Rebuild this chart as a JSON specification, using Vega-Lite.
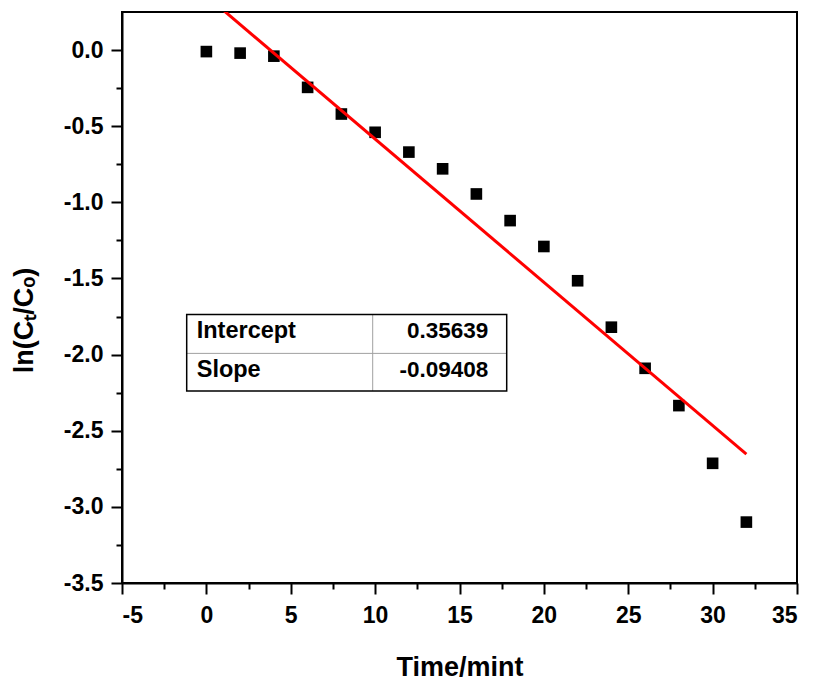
{
  "$schema": "https://vega.github.io/schema/vega-lite/v6.json",
  "autosize": "none",
  "width": 675,
  "height": 571,
  "padding": {"left": 122, "top": 12, "right": 16, "bottom": 100},
  "background": "white",
  "config": {
    "view": {"stroke": "black", "strokeWidth": 2},
    "font": "Liberation Sans",
    "axis": {"grid": false, "labelColor": "black", "titleColor": "black", "tickColor": "black", "domainColor": "black"}
  },
  "datasets": {
    "kinetics": [
      {"time": 0, "lnC": -0.01},
      {"time": 2, "lnC": -0.02},
      {"time": 4, "lnC": -0.04},
      {"time": 6, "lnC": -0.245},
      {"time": 8, "lnC": -0.42},
      {"time": 10, "lnC": -0.54},
      {"time": 12, "lnC": -0.67},
      {"time": 14, "lnC": -0.78},
      {"time": 16, "lnC": -0.945},
      {"time": 18, "lnC": -1.12},
      {"time": 20, "lnC": -1.29},
      {"time": 22, "lnC": -1.515},
      {"time": 24, "lnC": -1.82},
      {"time": 26, "lnC": -2.09},
      {"time": 28, "lnC": -2.335},
      {"time": 30, "lnC": -2.714},
      {"time": 32, "lnC": -3.1}
    ],
    "fit": [
      {"time": 0, "lnC": 0.35639},
      {"time": 32, "lnC": -2.65417}
    ],
    "params": [
      {"parameter": "Intercept", "value": "0.35639"},
      {"parameter": "Slope", "value": "-0.09408"}
    ],
    "table": [{"name": "fit table"}]
  },
  "resolve": {"axis": {"x": "independent", "y": "independent"}},
  "layer": [
    {
      "data": {"name": "kinetics"},
      "mark": {"type": "point", "shape": "square", "filled": true, "color": "black", "opacity": 1, "size": 135},
      "encoding": {
        "x": {
          "field": "time", "type": "quantitative",
          "scale": {"domain": [-5, 35], "nice": false, "zero": false},
          "axis": {
            "orient": "bottom", "values": [-5, 0, 5, 10, 15, 20, 25, 30, 35], "format": "d",
            "labelExpr": "replace(datum.label, '\u2212', '-')",
            "tickSize": 11, "tickWidth": 2, "domainWidth": 2,
            "labelFontSize": 23, "labelFontWeight": "bold", "labelPadding": 10,
            "title": "Time/mint", "titleFontSize": 27, "titleFontWeight": "bold",
            "titleBaseline": "alphabetic", "titleY": 92
          }
        },
        "y": {
          "field": "lnC", "type": "quantitative",
          "scale": {"domain": [-3.5, 0.25], "nice": false, "zero": false},
          "axis": {
            "orient": "left", "values": [-3.5, -3, -2.5, -2, -1.5, -1, -0.5, 0], "format": ".1f",
            "labelExpr": "replace(datum.label, '\u2212', '-')",
            "tickSize": 11, "tickWidth": 2, "domainWidth": 2,
            "labelFontSize": 23, "labelFontWeight": "bold", "labelPadding": 8,
            "title": "ln(C\u209c/C\u2092)", "titleFontSize": 27, "titleFontWeight": "bold",
            "titleBaseline": "alphabetic", "titleX": -90, "titleY": 308
          }
        }
      }
    },
    {
      "data": {"name": "fit"},
      "mark": {"type": "line", "color": "#ff0000", "strokeWidth": 3, "clip": true},
      "encoding": {
        "x": {
          "field": "time", "type": "quantitative",
          "axis": {
            "orient": "bottom", "values": [-2.5, 2.5, 7.5, 12.5, 17.5, 22.5, 27.5, 32.5],
            "labels": false, "domain": false, "tickSize": 6, "tickWidth": 2, "title": null
          }
        },
        "y": {
          "field": "lnC", "type": "quantitative",
          "axis": {
            "orient": "left", "values": [-3.25, -2.75, -2.25, -1.75, -1.25, -0.75, -0.25],
            "labels": false, "domain": false, "tickSize": 6, "tickWidth": 2, "title": null
          }
        }
      }
    },
    {
      "data": {"name": "table"},
      "mark": {"type": "rect", "fill": "white", "stroke": null},
      "encoding": {
        "x": {"datum": -1.166, "type": "quantitative", "axis": null},
        "x2": {"datum": 17.797},
        "y": {"datum": -1.736, "type": "quantitative", "axis": null},
        "y2": {"datum": -2.239}
      }
    },
    {
      "data": {"name": "table"},
      "mark": {"type": "rule", "color": "#a0a0a0", "strokeWidth": 1},
      "encoding": {
        "x": {"datum": 9.856, "type": "quantitative", "axis": null},
        "y": {"datum": -1.736, "type": "quantitative", "axis": null},
        "y2": {"datum": -2.239}
      }
    },
    {
      "data": {"name": "table"},
      "mark": {"type": "rule", "color": "#a0a0a0", "strokeWidth": 1},
      "encoding": {
        "x": {"datum": -1.166, "type": "quantitative", "axis": null},
        "x2": {"datum": 17.797},
        "y": {"datum": -1.992, "type": "quantitative", "axis": null}
      }
    },
    {
      "data": {"name": "table"},
      "mark": {"type": "rect", "fill": null, "fillOpacity": 0, "stroke": "black", "strokeWidth": 1.5},
      "encoding": {
        "x": {"datum": -1.166, "type": "quantitative", "axis": null},
        "x2": {"datum": 17.797},
        "y": {"datum": -1.736, "type": "quantitative", "axis": null},
        "y2": {"datum": -2.239}
      }
    },
    {
      "data": {"name": "params"},
      "transform": [{"filter": "datum.parameter === 'Intercept'"}],
      "mark": {"type": "text", "align": "left", "baseline": "alphabetic", "fontSize": 23.5, "fontWeight": "bold", "color": "black"},
      "encoding": {
        "x": {"datum": -0.573, "type": "quantitative", "axis": null},
        "y": {"datum": -1.893, "type": "quantitative", "axis": null},
        "text": {"field": "parameter"}
      }
    },
    {
      "data": {"name": "params"},
      "transform": [{"filter": "datum.parameter === 'Slope'"}],
      "mark": {"type": "text", "align": "left", "baseline": "alphabetic", "fontSize": 23.5, "fontWeight": "bold", "color": "black"},
      "encoding": {
        "x": {"datum": -0.573, "type": "quantitative", "axis": null},
        "y": {"datum": -2.145, "type": "quantitative", "axis": null},
        "text": {"field": "parameter"}
      }
    },
    {
      "data": {"name": "params"},
      "transform": [{"filter": "datum.parameter === 'Intercept'"}],
      "mark": {"type": "text", "align": "right", "baseline": "alphabetic", "fontSize": 22.5, "fontWeight": "bold", "color": "black"},
      "encoding": {
        "x": {"datum": 16.707, "type": "quantitative", "axis": null},
        "y": {"datum": -1.893, "type": "quantitative", "axis": null},
        "text": {"field": "value"}
      }
    },
    {
      "data": {"name": "params"},
      "transform": [{"filter": "datum.parameter === 'Slope'"}],
      "mark": {"type": "text", "align": "right", "baseline": "alphabetic", "fontSize": 22.5, "fontWeight": "bold", "color": "black"},
      "encoding": {
        "x": {"datum": 16.707, "type": "quantitative", "axis": null},
        "y": {"datum": -2.145, "type": "quantitative", "axis": null},
        "text": {"field": "value"}
      }
    }
  ]
}
